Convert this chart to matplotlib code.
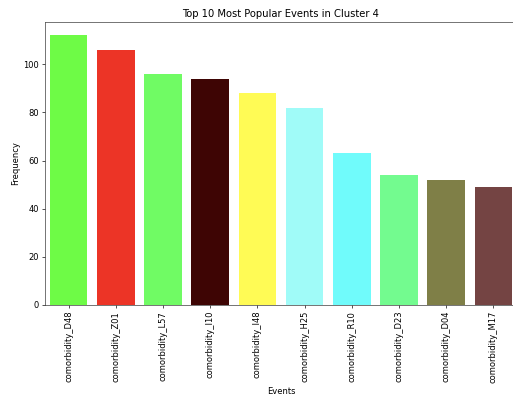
import matplotlib
matplotlib.use("Agg")
import matplotlib.pyplot as plt

events = ["comorbidity_D48", "comorbidity_Z01", "comorbidity_L57", "comorbidity_I10",
          "comorbidity_I48", "comorbidity_H25", "comorbidity_R10", "comorbidity_D23",
          "comorbidity_D04", "comorbidity_M17"]
frequency = [112, 106, 96, 94, 88, 82, 63, 54, 52, 49]
bar_colors = ["#6efb46", "#ec3426", "#70fb64", "#3e0504", "#fffb55",
              "#a0fbf8", "#70fbfb", "#73fb8f", "#7f7f47", "#744443"]

W, H, DPI = 513, 396, 60
fig = plt.figure(figsize=(W / DPI, H / DPI), dpi=DPI)
ax = fig.add_axes([45 / W, 1 - 305 / H, 472 / W, 283 / H])

x = range(len(events))
ax.bar(x, frequency, width=0.8, color=bar_colors)
ax.set_xlim(-0.5, len(events) - 0.5)
ax.set_ylim(0, max(frequency) * 1.05)
ax.set_xticks(list(x))
ax.set_xticklabels(events, rotation=90)
ax.set_xlabel("Events")
ax.set_ylabel("Frequency")
ax.set_title("Top 10 Most Popular Events in Cluster 4")
for s in ax.spines.values():
    s.set_color("#333333")

fig.savefig("out.png", dpi=DPI)
